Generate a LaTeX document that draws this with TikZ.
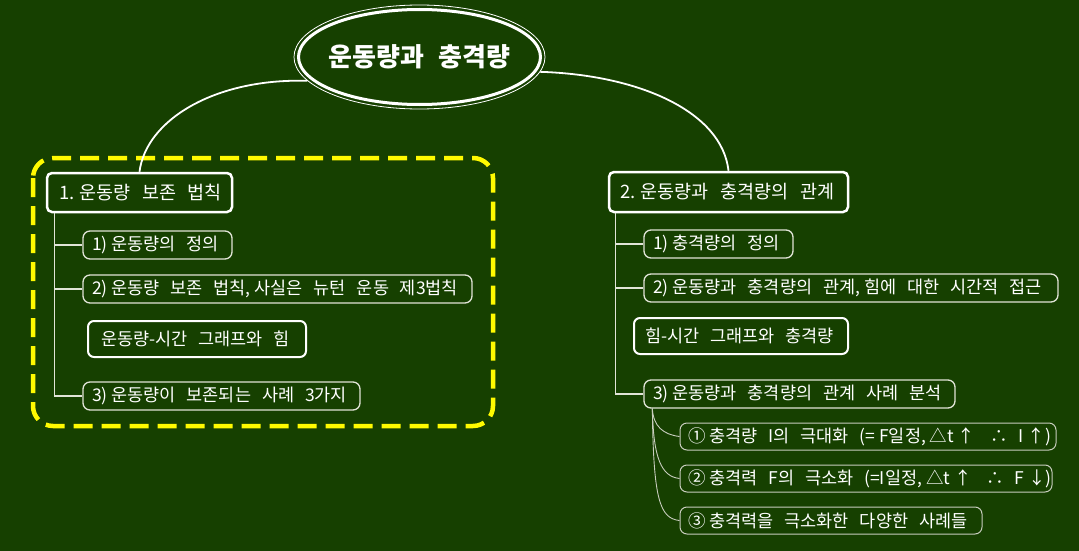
\documentclass[tikz,border=0pt]{standalone}
\usepackage{fontspec}
\setmainfont{Noto Sans CJK KR}
\usetikzlibrary{calc,shapes.geometric}
\definecolor{bg}{RGB}{22,64,0}
\definecolor{lineg}{RGB}{225,228,215}
\definecolor{subg}{RGB}{200,205,190}
\definecolor{yel}{RGB}{255,250,0}
\newcommand\ws{\hspace{0.62em}}
\newcommand\bt[2]{\makebox[#1pt][l]{#2}}
\tikzset{
  mainbox/.style={draw=white, line width=2.5pt, rounded corners=5pt, text=white, font=\fontsize{18.5}{21}\selectfont, inner ysep=0pt},
  subbox/.style={draw=lineg, line width=1.3pt, rounded corners=7pt, text=white, font=\fontsize{17.5}{20}\selectfont, inner xsep=9pt, inner ysep=0pt},
  midbox/.style={draw=white, line width=2pt, rounded corners=6pt, text=white, font=\fontsize{17.5}{20}\selectfont, inner ysep=0pt},
  leafbox/.style={draw=subg, line width=1pt, rounded corners=7pt, text=white, font=\fontsize{17.5}{20}\selectfont, inner xsep=8pt, inner ysep=0pt},
  tree/.style={draw=lineg, line width=1.2pt},
  leaf/.style={draw=subg, line width=0.9pt},
  trunk/.style={draw=white, line width=1.8pt}
}
\begin{document}
\begin{tikzpicture}[x=1pt,y=-1pt]
\path[fill=bg] (0,0) rectangle (1079,551);
% yellow dashed frame
\draw[yel, line width=4.5pt, dash pattern=on 19pt off 9pt, rounded corners=20pt]
  (33,158) rectangle (493,426);
% title
\node[draw=white, line width=0.8pt, ellipse, minimum width=251, minimum height=104, inner sep=0pt] (tout) at (419.5,57) {};
\node[draw=white, line width=3pt, ellipse, minimum width=242, minimum height=95, inner sep=0pt] (tin) at (419.5,57) {};
\node[text=white, font=\fontsize{26}{30}\selectfont\bfseries, inner sep=0pt] (title) at (tin.center) {운동량과\hspace{0.55em}충격량};
% main boxes
\node[mainbox, inner xsep=12pt, minimum height=39] (b1) at (139.5,192.5) {\bt{161}{1. 운동량\ws 보존\ws 법칙}};
\node[mainbox, inner xsep=11pt, minimum height=40] (b2) at (728.5,192) {\bt{217}{2. 운동량과\ws 충격량의\ws 관계}};
\draw[trunk] (tout.192) .. controls (215,78) and (146,120) .. (b1.north);
\draw[trunk] (tout.-7) .. controls (640,75) and (722,112) .. (b2.north);
% left subitems
\node[subbox, minimum height=28] (l1) at (157.5,245) {\bt{131}{1) 운동량의\ws 정의}};
\node[subbox, minimum height=28] (l2) at (277.5,289) {\bt{371}{2) 운동량\ws 보존\ws 법칙, 사실은\ws 뉴턴\ws 운동\ws 제3법칙}};
\node[midbox, inner xsep=13pt, minimum height=36] (l3) at (197,339) {\bt{192}{운동량-시간\ws 그래프와\ws 힘}};
\node[subbox, minimum height=28] (l4) at (221.5,396) {\bt{259}{3) 운동량이\ws 보존되는\ws 사례\ws 3가지}};
\draw[tree] ([xshift=9]b1.south west) |- (l1.west);
\draw[tree] ([xshift=9]b1.south west) |- (l2.west);
\draw[tree] ([xshift=9]b1.south west) |- (l4.west);
% right subitems
\node[subbox, minimum height=28] (r1) at (718.5,244) {\bt{131}{1) 충격량의\ws 정의}};
\node[subbox, minimum height=28] (r2) at (851,288) {\bt{396}{2) 운동량과\ws 충격량의\ws 관계, 힘에\ws 대한\ws 시간적\ws 접근}};
\node[midbox, inner xsep=11pt, minimum height=36] (r3) at (741,336) {\bt{192}{힘-시간\ws 그래프와\ws 충격량}};
\node[subbox, minimum height=28] (r4) at (799.5,394) {\bt{293}{3) 운동량과\ws 충격량의\ws 관계\ws 사례\ws 분석}};
\draw[tree] ([xshift=8]b2.south west) |- (r1.west);
\draw[tree] ([xshift=8]b2.south west) |- (r2.west);
\draw[tree] ([xshift=8]b2.south west) |- (r4.west);
% leaves
\node[leafbox, minimum height=27] (s1) at (868,436.5) {\bt{360}{① 충격량\ws I의\ws 극대화\ws (= F일정, △t\ ↑\ws\ ∴\ws I\ ↑)}};
\node[leafbox, minimum height=27] (s2) at (866,478.5) {\bt{356}{② 충격력\ws F의\ws 극소화\ws (=I일정, △t\ ↑\ws\ ∴\ws F\ ↓)}};
\node[leafbox, minimum height=27] (s3) at (831,520.5) {\bt{286}{③ 충격력을\ws 극소화한\ws 다양한\ws 사례들}};
\coordinate (rb) at ([xshift=9]r4.south west);
\draw[leaf] (rb) .. controls ($(rb)+(1,18)$) and ($(s1.west)+(-16,-2)$) .. (s1.west);
\draw[leaf] (rb) .. controls ($(rb)+(1,50)$) and ($(s2.west)+(-18,-2)$) .. (s2.west);
\draw[leaf] (rb) .. controls ($(rb)+(1,90)$) and ($(s3.west)+(-20,-2)$) .. (s3.west);
\end{tikzpicture}
\end{document}
